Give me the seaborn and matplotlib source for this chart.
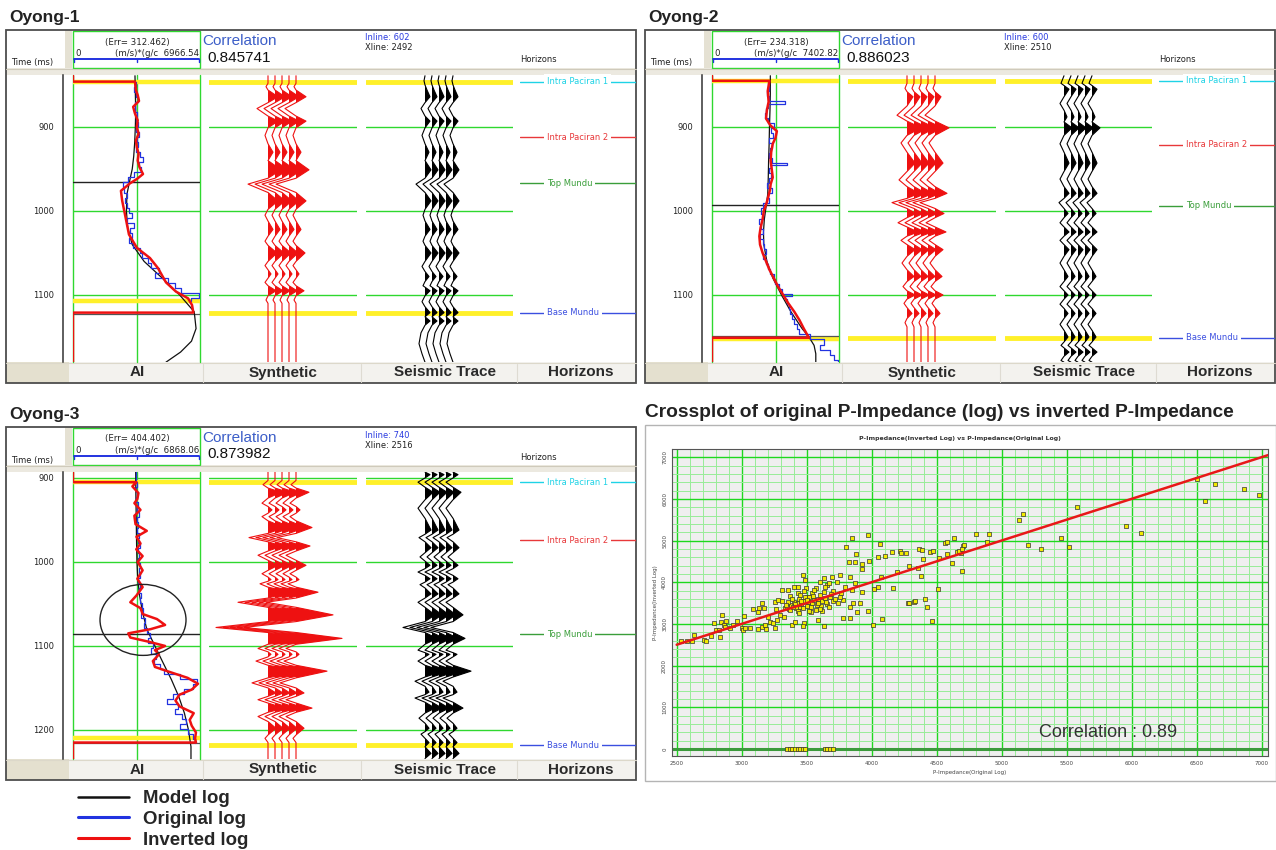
import numpy as np
import matplotlib
matplotlib.use("Agg")
import matplotlib.pyplot as plt
from matplotlib.patches import Rectangle, Ellipse
from matplotlib.lines import Line2D
from matplotlib.ticker import MultipleLocator
import seaborn as sns

# ---------------- well data (time in ms, AI in (m/s)*(g/cc)) ----------------
WELL_NAMES = ["Oyong-1", "Oyong-2", "Oyong-3"]
WELL_ERR = ["312.462", "234.318", "404.402"]
WELL_AI_MAX = [6966.54, 7402.82, 6868.06]
WELL_CORR = ["0.845741", "0.886023", "0.873982"]
WELL_INLINE = [602, 600, 740]
WELL_XLINE = [2492, 2510, 2516]
WELL_TLIM = [(838.1, 1179.8), (838.1, 1179.8), (892.9, 1234.6)]
WELL_TICKS = [[900, 1000, 1100], [900, 1000, 1100], [900, 1000, 1100, 1200]]

HORIZON_NAMES = ["Intra Paciran 1", "Intra Paciran 2", "Top Mundu", "Base Mundu"]
HORIZON_TIMES = [[846, 912, 967, 1121], [845, 921, 994, 1151], [905, 974, 1086, 1218]]
MARKER_TIME = [965, 993, 1086]
BASE_LINE_TIME = [1123, 1149, 1215]
YELLOW_AI = [[846, 1107], [845, 1152], [905, 1210]]
YELLOW_TRACE = [[846, 1121], [845, 1151], [905, 1218]]

# Oyong-1
O1_MODEL_T = [839, 860, 880, 900, 920, 935, 950, 965, 980, 1000, 1020, 1040, 1060, 1080, 1100, 1120, 1140, 1155, 1168, 1180]
O1_MODEL_AI = [3400, 3420, 3440, 3420, 3380, 3330, 3250, 3100, 2960, 2930, 3000, 3250, 3900, 4900, 5850, 6650, 6750, 6500, 5900, 5100]
O1_ORIG_T = [846, 852, 858, 864, 870, 876, 882, 888, 894, 900, 906, 912, 918, 924, 930, 936, 942, 948, 954, 960,
             966, 972, 978, 984, 990, 996, 1002, 1008, 1014, 1020, 1026, 1032, 1038, 1044, 1050, 1056, 1062, 1068, 1074, 1080,
             1086, 1092, 1098, 1104, 1107]
O1_ORIG_AI = [3400, 3450, 3350, 3480, 3550, 3420, 3380, 3500, 3450, 3550, 3480, 3600, 3500, 3580, 3450, 3700, 3850, 3600, 3750, 3350,
              3000, 2750, 2800, 2950, 2850, 2950, 3050, 3250, 2950, 3350, 3100, 3250, 3050, 3300, 3650, 3800, 4100, 4300, 4700, 4500,
              5200, 5600, 5900, 6900, 6500]
O1_INV_T = [839, 846, 846, 856, 862, 869, 876, 884, 892, 900, 908, 916, 924, 932, 940, 948, 956, 962, 967, 976,
            988, 1004, 1028, 1044, 1056, 1068, 1085, 1096, 1104, 1112, 1121, 1121, 1180]
O1_INV_AI = [0, 0, 3400, 3450, 3550, 3620, 3300, 3400, 3550, 3500, 3600, 3450, 3500, 3600, 3550, 3650, 3840, 3500, 3130, 2630,
             2700, 2850, 3070, 3510, 4220, 4660, 5100, 5650, 6310, 6530, 6600, 0, 0]
O1_SYN_T = [839, 848, 852, 856, 864, 871, 878, 887, 893, 901, 910, 920, 930, 940, 951, 961, 968, 978, 988, 998,
            1005, 1012, 1022, 1030, 1036, 1041, 1050, 1060, 1065, 1070, 1075, 1080, 1085, 1089, 1095, 1101, 1106, 1110, 1180]
O1_SYN_A = [0, 0, -2, 0, 10, 0, -11, 0, 10, 0, -3, 0, 5, 0, 13, 0, -20, 0, 10, 0,
            -3, 0, 5, 0, -3, 0, 9, 0, -3, 0, 3, 0, -3, 0, 8, 0, -2, 0, 0]
O1_SEI_T = [839, 845, 850, 856, 864, 871, 878, 887, 893, 901, 910, 920, 930, 940, 951, 961, 968, 978, 988, 998,
            1005, 1012, 1022, 1030, 1036, 1041, 1050, 1060, 1066, 1072, 1078, 1084, 1089, 1095, 1101, 1108, 1114, 1121, 1126, 1131,
            1136, 1145, 1158, 1170, 1180]
O1_SEI_A = [0, -1, 0, 2, 5, 0, -4, 0, 5, 0, -3, 0, 4, 0, 6, 0, -9, 0, 6, 0,
            -2, 0, 5, 0, -2, 0, 6, 0, -3, 0, 4, 0, -2, 5, 0, -3, 0, 5, 0, 5,
            0, -4, -6, -3, 0]

# Oyong-2
O2_MODEL_T = [839, 860, 880, 900, 920, 940, 960, 980, 995, 1010, 1025, 1040, 1060, 1080, 1100, 1120, 1140, 1150, 1160, 1170, 1180]
O2_MODEL_AI = [3400, 3400, 3380, 3350, 3330, 3300, 3280, 3250, 3150, 3050, 3000, 3020, 3200, 3550, 4050, 4600, 5250, 5650, 5950, 6050, 6050]
O2_ORIG_T = [845, 851, 857, 863, 869, 873, 877, 883, 889, 895, 901, 907, 913, 919, 925, 931, 937, 943, 945, 949,
             955, 961, 967, 973, 979, 985, 991, 997, 1003, 1009, 1015, 1021, 1027, 1033, 1039, 1045, 1051, 1057, 1063, 1069,
             1075, 1081, 1087, 1093, 1099, 1101, 1105, 1111, 1117, 1123, 1129, 1135, 1141, 1147, 1153, 1159, 1165, 1171, 1177, 1180]
O2_ORIG_AI = [3300, 3250, 3350, 3200, 3300, 4250, 3250, 3150, 3100, 3250, 3600, 3450, 3550, 3350, 3500, 3400, 3350, 3500, 4350, 3450,
              3300, 3450, 3350, 3200, 3500, 3250, 3350, 3000, 2850, 2950, 2750, 2850, 3000, 2800, 2950, 3050, 3150, 3000, 3150, 3250,
              3400, 3600, 3700, 3900, 4100, 4650, 4250, 4350, 4500, 4550, 4650, 4800, 4950, 5100, 5700, 6500, 6300, 6900, 7100, 7350]
O2_INV_T = [839, 845, 845, 857, 870, 880, 890, 898, 905, 913, 920, 930, 940, 950, 960, 968, 975, 983, 990, 1000,
            1010, 1020, 1030, 1040, 1050, 1060, 1070, 1080, 1090, 1100, 1110, 1120, 1130, 1140, 1151, 1151, 1180]
O2_INV_AI = [0, 0, 3350, 3250, 3300, 3200, 3150, 3400, 3780, 3700, 3540, 3450, 3420, 3480, 3540, 3420, 3380, 3280, 3190, 3020,
             2950, 2830, 2760, 2800, 2950, 3150, 3350, 3600, 3850, 4150, 4450, 4800, 5100, 5350, 5650, 0, 0]
O2_SYN_T = [839, 848, 854, 858, 864, 875, 886, 893, 901, 910, 919, 930, 943, 953, 963, 971, 979, 985, 990, 997,
            1003, 1008, 1014, 1019, 1025, 1030, 1035, 1040, 1046, 1054, 1062, 1070, 1078, 1084, 1090, 1095, 1100, 1105, 1110, 1115,
            1122, 1128, 1133, 1138, 1180]
O2_SYN_A = [0, 0, -2, 0, 6, 0, -10, 0, 14, 0, -6, 0, 8, 0, -8, 0, 12, 0, -15, 0,
            9, 0, -9, 0, 11, 0, -6, 0, 8, 0, -5, 0, 7, 0, -4, 0, 8, 0, -3, 0,
            5, 0, -2, 0, 0]
O2_SEI_T = [839, 848, 855, 864, 872, 880, 888, 894, 901, 910, 920, 930, 943, 953, 962, 971, 979, 985, 990, 997,
            1003, 1008, 1014, 1019, 1025, 1030, 1035, 1040, 1046, 1054, 1062, 1070, 1078, 1084, 1090, 1095, 1100, 1105, 1111, 1116,
            1122, 1128, 1135, 1142, 1150, 1156, 1160, 1163, 1168, 1173, 1178, 1180]
O2_SEI_A = [0, -3, 5, 0, -4, 0, 3, 0, 8, 0, -4, 0, 5, 0, -4, 0, 5, 0, -5, 0,
            4, 0, -4, 0, 5, 0, -4, 0, 5, 0, -4, 0, 4, 0, -4, 0, 4, 0, -4, 0,
            4, 0, -4, 0, 4, 0, -3, 0, 5, 0, -3, 0]

# Oyong-3
O3_MODEL_T = [893, 920, 950, 980, 1000, 1020, 1040, 1060, 1080, 1100, 1120, 1140, 1160, 1180, 1200, 1220, 1235]
O3_MODEL_AI = [3390, 3400, 3420, 3440, 3460, 3500, 3600, 3765, 3990, 4430, 4870, 5320, 5715, 6025, 6245, 6380, 6380]
O3_ORIG_T = [893, 899, 905, 911, 917, 923, 929, 935, 941, 947, 953, 959, 965, 971, 977, 983, 989, 995, 1001, 1007,
             1013, 1019, 1025, 1031, 1037, 1043, 1049, 1055, 1061, 1067, 1073, 1079, 1085, 1091, 1097, 1103, 1109, 1115, 1121, 1127,
             1133, 1139, 1145, 1151, 1157, 1163, 1169, 1175, 1181, 1187, 1193, 1199, 1205, 1211, 1215]
O3_ORIG_AI = [3390, 3420, 3380, 3450, 3400, 3480, 3420, 3500, 3450, 3550, 3480, 3520, 3450, 3560, 3500, 3600, 3520, 3580, 3500, 3650,
              3550, 3600, 3500, 3650, 3550, 3700, 3600, 3750, 3800, 3700, 3900, 3850, 4000, 4150, 4050, 4300, 4200, 4500, 4400, 4700,
              4900, 5800, 6700, 6500, 6000, 5400, 5100, 5700, 5500, 5900, 6100, 5800, 6200, 6500, 6600]
O3_INV_T = [893, 905, 905, 910, 918, 925, 930, 938, 945, 955, 963, 970, 978, 985, 993, 1000, 1010, 1020, 1030, 1040,
            1048, 1055, 1062, 1068, 1075, 1080, 1085, 1090, 1095, 1100, 1105, 1110, 1118, 1125, 1130, 1138, 1145, 1152, 1158, 1165,
            1172, 1180, 1188, 1195, 1203, 1210, 1215, 1215, 1235]
O3_INV_AI = [0, 0, 3430, 3210, 3540, 3480, 3320, 3650, 3320, 3380, 3990, 3430, 3650, 3420, 3765, 3500, 3765, 3480, 3765, 3430,
             3100, 3650, 3765, 4540, 4980, 4200, 2990, 3100, 4100, 4980, 4430, 4650, 4320, 4430, 5095, 6200, 6760, 6420, 5760, 5540,
             5760, 6530, 6310, 6420, 6650, 6600, 6650, 0, 0]
O3_SYN_T = [893, 903, 908, 912, 917, 924, 930, 934, 938, 942, 946, 951, 959, 966, 971, 976, 981, 987, 992, 998,
            1004, 1010, 1014, 1018, 1021, 1023, 1026, 1030, 1036, 1043, 1048, 1054, 1063, 1071, 1078, 1084, 1091, 1098, 1103, 1107,
            1110, 1113, 1118, 1123, 1130, 1138, 1144, 1150, 1156, 1160, 1164, 1168, 1174, 1179, 1184, 1190, 1198, 1206, 1210, 1215,
            1235]
O3_SYN_A = [0, 0, -5, 0, 13, 0, -6, 0, 4, 0, -6, 0, 16, 0, -19, 0, 14, 0, -10, 0,
            10, 0, -6, 0, 3, 0, -8, 0, 22, 0, -30, 0, 37, 0, -52, 0, 46, 0, -10, 0,
            3, 0, -12, 0, 31, 0, -16, 0, 8, 0, -10, 0, 16, 0, -10, 0, 8, 0, -3, 0,
            0]
O3_SEI_T = [893, 896, 900, 905, 911, 917, 926, 936, 948, 962, 967, 971, 976, 983, 989, 994, 999, 1004, 1008, 1012,
            1016, 1020, 1024, 1027, 1031, 1038, 1043, 1048, 1054, 1063, 1071, 1078, 1084, 1091, 1098, 1105, 1108, 1110, 1113, 1118,
            1123, 1130, 1137, 1142, 1148, 1155, 1158, 1162, 1167, 1174, 1180, 1186, 1192, 1198, 1202, 1205, 1210, 1215, 1220, 1228,
            1234]
O3_SEI_A = [0, 5, 0, -7, 0, 8, 0, -7, 0, 6, 0, -6, 0, 6, 0, -5, 0, 5, 0, -7,
            0, 5, 0, -5, 0, 6, 0, -7, 0, 10, 0, -22, 0, 12, 0, -7, 0, 4, 0, -7,
            0, 18, 0, -10, 0, 4, 0, -10, 0, 10, 0, -6, 0, 4, 0, -4, 0, 4, 0, 6,
            0]

# annotated interval on Oyong-3 (AI value, time, width, height)
O3_CIRCLE = (3786, 1069, 4651, 84.5)

# ---------------- crossplot data ----------------
CP_ORIGINAL = [
    2533, 2582, 2615, 2633, 2713, 2726, 2762, 2790, 2803, 2833,
    2828, 2841, 2846, 2864, 2879, 2872, 2910, 2931, 2962, 3000,
    3008, 3026, 3021, 3064, 3085, 3128, 3136, 3154, 3128, 3154,
    3174, 3179, 3187, 3205, 3218, 3244, 3256, 3262, 3256, 3269,
    3282, 3308, 3308, 3295, 3328, 3333, 3359, 3364, 3372, 3385,
    3403, 3410, 3423, 3436, 3436, 3449, 3474, 3482, 3474, 3487,
    3492, 3500, 3518, 3531, 3544, 3569, 3590, 3603, 3615, 3636,
    3636, 3654, 3674, 3692, 3705, 3731, 3756, 3762, 3782, 3795,
    3833, 3833, 3846, 3859, 3872, 3833, 3782, 3885, 3910, 3928,
    3923, 3826, 3882, 3869, 3928, 3982, 3974, 4013, 4018, 4051,
    4051, 4069, 4082, 4102, 4154, 4162, 4192, 4218, 4226, 4264,
    4277, 4290, 4326, 4359, 4377, 4367, 4392, 4410, 4423, 4449,
    4462, 4513, 4520, 4564, 4577, 4615, 4654, 4684, 4692, 4674,
    4700, 4807, 4907, 4885, 4712, 4697, 4634, 4577, 4470, 4388,
    3847, 3973, 4061, 3800, 5162, 5137, 5206, 5300, 5461, 5515,
    5584, 5955, 6069, 6506, 6641, 6569, 6862, 6978, 4288, 4335,
    3380, 3400, 3420, 3440, 3460, 3480, 3500, 3520, 3540, 3560,
    3580, 3600, 3620, 3640, 3660, 3680, 3700, 3350, 3370, 3390,
    3410, 3430, 3450, 3470, 3490, 3510, 3530, 3550, 3570, 3590,
    3610, 3630, 3650, 3670, 3690, 3720, 3740, 3760, 3440, 3520,
    3600, 3360, 3480, 3560, 3640, 3345, 3395, 3455, 3505, 3585,
    3350, 3370, 3390, 3410, 3430, 3450, 3470, 3490, 3640, 3660, 3680, 3700,
]
CP_INVERTED = [
    2578, 2594, 2578, 2722, 2618, 2594, 2714, 3017, 2857, 2674,
    2857, 3057, 3217, 2977, 3073, 2937, 2897, 2977, 3081, 2897,
    2857, 2897, 3193, 2897, 3353, 3297, 3377, 3497, 2873, 2921,
    3377, 2977, 2873, 3177, 3057, 3017, 2897, 3361, 3537, 3097,
    3577, 3553, 3816, 3217, 3161, 3377, 3816, 3353, 3672, 2977,
    3896, 3057, 3497, 3752, 3896, 3417, 4176, 3033, 2953, 4056,
    3872, 3656, 3537, 3297, 3736, 3856, 3097, 4016, 3321, 2953,
    4096, 3936, 3992, 4136, 3800, 4016, 4176, 3736, 3577, 3896,
    4136, 3417, 3816, 3513, 3976, 3137, 3137, 3297, 3513, 3776,
    4312, 4496, 4680, 4496, 4440, 4520, 3321, 2977, 3832, 3896,
    4616, 4136, 3121, 4632, 4735, 3856, 4256, 4751, 4695, 4711,
    3497, 4392, 3537, 4336, 4152, 4791, 4551, 3608, 3417, 4735,
    3073, 3832, 4575, 4951, 4680, 4456, 4735, 4695, 4272, 4759,
    4871, 5147, 5163, 4964, 4884, 4788, 5067, 4964, 4748, 4772,
    5067, 5123, 4924, 4844, 5642, 5482, 4892, 4804, 5067, 4844,
    5801, 5347, 5187, 6480, 6368, 5961, 6240, 6097, 3511, 3551,
    3450, 3520, 3380, 3600, 3480, 3560, 3420, 3640, 3500, 3580,
    3460, 3700, 3550, 3620, 3480, 3650, 3560, 3400, 3330, 3600,
    3470, 3300, 3700, 3380, 3640, 3520, 3400, 3680, 3340, 3600,
    3420, 3760, 3520, 3400, 3720, 3600, 3500, 3650, 3250, 3300,
    3350, 3520, 3800, 3820, 3880, 3460, 3410, 3540, 3580, 3510,
    0, 0, 0, 0, 0, 0, 0, 0, 0, 0, 0, 0,
]
CP_LINE_X = [2500, 7050]
CP_LINE_Y = [2500, 7050]
CP_CORR = 0.89

# ---------------- style ----------------
W, H = 1276, 850
GREEN = "#2fd82f"
YELLOW = "#fff02a"
BLUE = "#2233e0"
RED = "#ee1111"
HORIZON_COLORS = ["#1fd3e6", "#e8383a", "#3a9e3a", "#3b4fe0"]
TRACE_BASES = [59, 66, 73, 80, 87]
ARIAL = "Liberation Sans"

sns.set_style("white")
plt.rcParams["font.family"] = ["DejaVu Sans"]

fig = plt.figure(figsize=(W / 100, H / 100), dpi=100)


def px_ax(x0, y0, x1, y1):
    return fig.add_axes([x0 / W, 1 - y1 / H, (x1 - x0) / W, (y1 - y0) / H])


base = px_ax(0, 0, W, H)
base.set_xlim(0, W)
base.set_ylim(H, 0)
base.axis("off")


def wiggle(ax, t, a, color, lw):
    t = np.asarray(t, float)
    a = np.asarray(a, float)
    for b in TRACE_BASES:
        ax.fill_betweenx(t, b, b + a, where=a > 0, interpolate=True, color=color, lw=0, zorder=4)
        ax.plot(b + a, t, color=color, lw=lw, zorder=5)


def draw_well(ox, oy, i, model, orig, inv, syn, sei):
    t0, t1 = WELL_TLIM[i]
    ai_max = WELL_AI_MAX[i]
    ticks = WELL_TICKS[i]

    base.text(ox + 3, oy - 13, WELL_NAMES[i], fontsize=12.5, weight="bold",
              family=ARIAL, color="#222", va="center")

    fr = px_ax(ox, oy, ox + 630, oy + 353)
    fr.set_xlim(0, 630)
    fr.set_ylim(353, 0)
    fr.axis("off")

    def rect(x, y, w, h, **kw):
        fr.add_patch(Rectangle((x, y), w, h, clip_on=False, **kw))

    rect(0, 0, 630, 353, fc="white", ec="none")
    rect(59, 0, 7, 38, fc="#e5e1d3", ec="none")
    rect(0, 38, 630, 7, fc="#ece9e0", ec="none")
    fr.plot([0, 630], [38.5, 38.5], color="#cfcabb", lw=0.8, clip_on=False)
    rect(0, 332, 630, 21, fc="#f3f2ee", ec="none")
    rect(0, 332, 63, 21, fc="#e4e0cf", ec="none")
    fr.plot([0, 630], [332.5, 332.5], color="#dcd8ca", lw=0.8, clip_on=False)
    for xs in (197, 355, 511):
        fr.plot([xs, xs], [334, 352], color="#dedbd2", lw=0.8)
    rect(67, 1, 127, 37, fc="none", ec=GREEN, lw=1)
    fr.plot([68, 193], [29, 29], color=BLUE, lw=1.4)
    for xs in (68, 131, 193):
        fr.plot([xs, xs], [29, 32], color=BLUE, lw=1)
    rect(0, 0, 630, 353, fc="none", ec="#4d4d4d", lw=1.3)

    fr.text(26, 33, "Time (ms)", fontsize=6, ha="center", va="center", color="#222")
    fr.text(131, 12, f"(Err= {WELL_ERR[i]})", fontsize=6.2, ha="center", va="center", color="#222")
    fr.text(69, 23.5, "0", fontsize=6.2, ha="left", va="center", color="#222")
    fr.text(193, 23.5, f"(m/s)*(g/c  {ai_max:.2f}", fontsize=6.2, ha="right", va="center", color="#222")
    fr.text(196, 11, "Correlation", fontsize=11, family=ARIAL, color="#3c5ec8", va="center")
    fr.text(201, 27.5, WELL_CORR[i], fontsize=11, family=ARIAL, color="#111", va="center")
    fr.text(359, 8, f"Inline: {WELL_INLINE[i]}", fontsize=6, color="#2a3be0", va="center")
    fr.text(359, 18, f"Xline: {WELL_XLINE[i]}", fontsize=6, color="#222", va="center")
    fr.text(514, 30, "Horizons", fontsize=6, color="#222", va="center")
    for xc, lab in zip((131, 277, 439, 575), ("AI", "Synthetic", "Seismic Trace", "Horizons")):
        fr.text(xc, 342.5, lab, fontsize=11, weight="bold", family=ARIAL,
                color="#2a2a2a", ha="center", va="center")

    # time axis
    ta = px_ax(ox + 57, oy + 45, ox + 58, oy + 332)
    ta.set_facecolor("none")
    for s in ("top", "right", "bottom"):
        ta.spines[s].set_visible(False)
    ta.spines["left"].set_color("#333")
    ta.spines["left"].set_linewidth(1.1)
    ta.set_xticks([])
    ta.set_yticks(ticks)
    ta.yaxis.set_minor_locator(MultipleLocator(20))
    ta.tick_params(axis="y", which="major", length=5, width=0.8, labelsize=6, pad=1.5, colors="#222")
    ta.tick_params(axis="y", which="minor", length=3, width=0.8, color="#333")
    ta.set_ylim(t1, t0)

    def track(x0, x1):
        ax = px_ax(ox + x0, oy + 45, ox + x1, oy + 332)
        ax.set_facecolor("none")
        for s in ax.spines.values():
            s.set_visible(False)
        return ax

    def finish(ax, xmax):
        ax.set_xlim(0, xmax)
        ax.set_ylim(t1, t0)
        ax.set_xticks([])
        ax.set_yticks([])
        ax.set_xlabel("")
        ax.set_ylabel("")

    # AI track
    ai = track(67, 194)
    for v in (0, ai_max / 2, ai_max):
        ai.axvline(v, color=GREEN, lw=1, clip_on=False, zorder=1)
    for tk in ticks:
        ai.axhline(tk, color=GREEN, lw=1, zorder=1)
    for ty in YELLOW_AI[i]:
        ai.axhline(ty, color=YELLOW, lw=3.2, zorder=2)
    ai.axhline(MARKER_TIME[i], color="#222", lw=1, zorder=3)
    ai.axhline(BASE_LINE_TIME[i], color="#555", lw=0.9, zorder=3)
    sns.lineplot(x=model[1], y=model[0], sort=False, estimator=None, color="#111",
                 lw=0.9, ax=ai, zorder=4)
    ai.plot(orig[1], orig[0], drawstyle="steps-post", color=BLUE, lw=0.9, zorder=5)
    sns.lineplot(x=inv[1], y=inv[0], sort=False, estimator=None, color=RED,
                 lw=1.8, ax=ai, zorder=6)
    if i == 2:
        cx, cy, cw, ch = O3_CIRCLE
        ai.add_patch(Ellipse((cx, cy), cw, ch, fill=False, ec="#222", lw=1, zorder=7, clip_on=False))
    finish(ai, ai_max)

    # synthetic and seismic tracks
    for (x0, x1), tr, col in (((203, 351), syn, RED), ((360, 507), sei, "#000000")):
        ax = track(x0, x1)
        for tk in ticks:
            ax.axhline(tk, color=GREEN, lw=1, zorder=1)
        for ty in YELLOW_TRACE[i]:
            ax.axhline(ty, color=YELLOW, lw=3.5, zorder=2)
        wiggle(ax, tr[0], tr[1], col, 0.8)
        finish(ax, x1 - x0)

    # horizons track
    hz = track(514, 630)
    for name, th, col in zip(HORIZON_NAMES, HORIZON_TIMES[i], HORIZON_COLORS):
        hz.axhline(th, color=col, lw=1)
        hz.text(27, th, name, color=col, fontsize=6, ha="left", va="center",
                bbox=dict(fc="white", ec="none", pad=2))
    finish(hz, 116)


draw_well(6, 30, 0, (O1_MODEL_T, O1_MODEL_AI), (O1_ORIG_T, O1_ORIG_AI), (O1_INV_T, O1_INV_AI),
          (O1_SYN_T, O1_SYN_A), (O1_SEI_T, O1_SEI_A))
draw_well(645, 30, 1, (O2_MODEL_T, O2_MODEL_AI), (O2_ORIG_T, O2_ORIG_AI), (O2_INV_T, O2_INV_AI),
          (O2_SYN_T, O2_SYN_A), (O2_SEI_T, O2_SEI_A))
draw_well(6, 427, 2, (O3_MODEL_T, O3_MODEL_AI), (O3_ORIG_T, O3_ORIG_AI), (O3_INV_T, O3_INV_AI),
          (O3_SYN_T, O3_SYN_A), (O3_SEI_T, O3_SEI_A))

# ---------------- legend ----------------
handles = [Line2D([], [], color="#111", lw=1.8), Line2D([], [], color=BLUE, lw=2.2),
           Line2D([], [], color=RED, lw=2.2)]
fig.legend(handles, ["Model log", "Original log", "Inverted log"], loc="upper left",
           bbox_to_anchor=(78 / W, 1 - 790 / H), frameon=False, borderpad=0, borderaxespad=0,
           handlelength=2.75, handletextpad=0.75, labelspacing=0.2,
           prop=dict(family=ARIAL, weight="bold", size=13.4))

# ---------------- crossplot ----------------
base.text(645, 412, "Crossplot of original P-Impedance (log) vs inverted P-Impedance",
          fontsize=13.8, weight="bold", family=ARIAL, color="#222", va="center")
base.add_patch(Rectangle((645, 425), 631, 356, fc="white", ec="#b4b4b4", lw=1))
base.text(960, 438, "P-Impedance(Inverted Log) vs P-Impedance(Original Log)",
          fontsize=4.5, weight="bold", color="#333", ha="center", va="center")

cp = px_ax(672, 449, 1268, 756)
cp.set_facecolor("#efefef")
cp.set_axisbelow(True)
cp.xaxis.set_major_locator(MultipleLocator(500))
cp.xaxis.set_minor_locator(MultipleLocator(100))
cp.yaxis.set_major_locator(MultipleLocator(1000))
cp.yaxis.set_minor_locator(MultipleLocator(200))
cp.grid(which="major", color="#1ed81e", lw=1.0)
cp.grid(which="minor", color="#98ec98", lw=0.7)
cp.axhline(0, color="#3c9a3c", lw=2.2, zorder=2)
sns.lineplot(x=CP_LINE_X, y=CP_LINE_Y, color="#e81818", lw=1.8, ax=cp, zorder=5)
sns.scatterplot(x=CP_ORIGINAL, y=CP_INVERTED, marker="s", s=9, color="#f2ea00",
                edgecolor="#333333", linewidth=0.5, ax=cp, zorder=4)
cp.set_xlim(2464, 7050)
cp.set_ylim(-170, 7197)
cp.set_xticks(range(2500, 7001, 500))
cp.set_yticks(range(0, 7001, 1000))
cp.tick_params(which="both", length=2, width=0.5, labelsize=4, colors="#444", pad=1.5)
cp.tick_params(which="minor", length=0)
plt.setp(cp.get_yticklabels(), rotation=90, va="center")
cp.set_xlabel("P-Impedance(Original Log)", fontsize=4, color="#444", labelpad=3)
cp.set_ylabel("P-Impedance(Inverted Log)", fontsize=4, color="#444", labelpad=3)
for s in cp.spines.values():
    s.set_color("#555")
    s.set_linewidth(0.8)
cp.text(0.7315, 0.075, f"Correlation : {CP_CORR}", transform=cp.transAxes, fontsize=13,
        family=ARIAL, color="#333", ha="center", va="center")

fig.savefig("out.png", dpi=100)
